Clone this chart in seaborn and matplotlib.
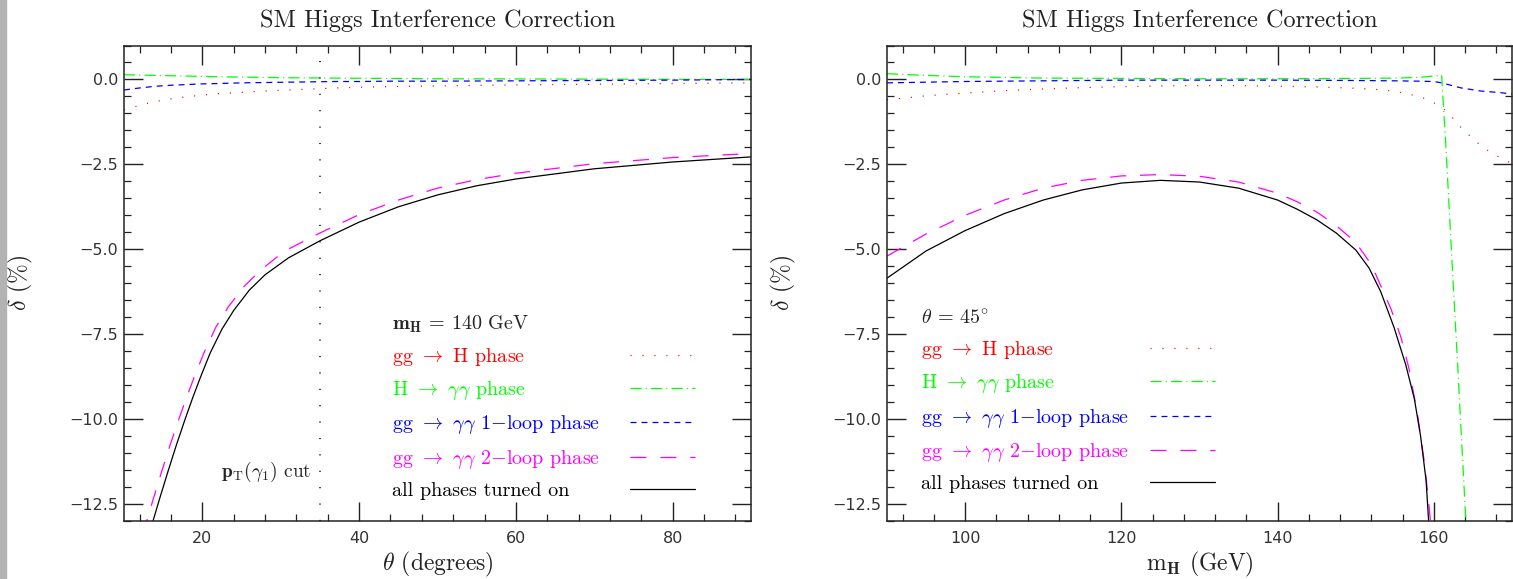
import matplotlib
matplotlib.use("Agg")
import matplotlib.pyplot as plt
import seaborn as sns
from matplotlib.patches import Rectangle
from matplotlib.ticker import MultipleLocator

# ---- data ----
# left panel: m_H = 140 GeV, delta (%) versus theta (degrees)
theta_phase = [10, 12, 14, 16, 18, 20, 22, 25, 28, 31, 34, 37, 40, 44, 50, 60, 70, 80, 90]
left_ggH = [-0.90, -0.76, -0.65, -0.57, -0.51, -0.46, -0.42, -0.38, -0.34, -0.31,
            -0.28, -0.25, -0.23, -0.21, -0.19, -0.16, -0.14, -0.12, -0.10]
left_Hgg = [0.14, 0.13, 0.12, 0.11, 0.10, 0.09, 0.08, 0.07, 0.06, 0.05,
            0.045, 0.04, 0.035, 0.03, 0.02, 0.015, 0.01, 0.005, 0.0]
left_1loop = [-0.31, -0.25, -0.20, -0.17, -0.15, -0.13, -0.12, -0.10, -0.09, -0.08,
              -0.07, -0.06, -0.06, -0.05, -0.05, -0.04, -0.03, -0.02, 0.0]
theta_2loop = [12.5, 12.9, 13.8, 14.8, 15.9, 17.0, 18.0, 18.9, 20.2, 21.7, 23.3, 25.3,
               27.5, 30.5, 35, 40, 45, 50, 55, 60, 70, 80, 90]
left_2loop = [-13.4, -13.0, -12.3, -11.55, -10.75, -10.0, -9.35, -8.8, -8.05, -7.3,
              -6.7, -6.1, -5.6, -5.05, -4.52, -3.98, -3.55, -3.2, -2.95, -2.76, -2.48,
              -2.3, -2.18]
theta_all = [13.3, 13.7, 14.6, 15.6, 16.7, 17.8, 18.8, 19.7, 21, 22.5, 24, 26, 28, 31,
             35, 40, 45, 50, 55, 60, 70, 80, 90]
left_all = [-13.35, -13.0, -12.3, -11.55, -10.75, -10.0, -9.35, -8.8, -8.05, -7.35,
            -6.8, -6.2, -5.75, -5.25, -4.75, -4.2, -3.75, -3.4, -3.13, -2.93, -2.63,
            -2.43, -2.28]
pt_cut_theta = 35

# right panel: theta = 45 deg, delta (%) versus m_H (GeV)
mH_ggH = [90, 95, 100, 105, 110, 115, 120, 125, 130, 135, 140, 145, 150, 153, 155, 157,
          159, 160.6, 161.8, 162.8, 163.8, 165, 166.1, 167.5, 168.7, 170]
right_ggH = [-0.6, -0.48, -0.4, -0.33, -0.28, -0.24, -0.21, -0.19, -0.18, -0.18, -0.2,
             -0.22, -0.26, -0.3, -0.35, -0.44, -0.57, -0.76, -0.96, -1.24, -1.5, -1.74,
             -1.97, -2.18, -2.33, -2.48]
mH_Hgg = [90, 95, 100, 110, 120, 130, 140, 150, 155, 158, 160, 161.0, 161.2, 161.5,
          162.4, 163.1, 164.0, 164.2]
right_Hgg = [0.17, 0.12, 0.08, 0.04, 0.03, 0.02, 0.02, 0.03, 0.04, 0.06, 0.10, 0.13,
             -0.7, -1.8, -5.7, -8.65, -12.6, -13.4]
mH_1loop = [90, 95, 100, 110, 120, 130, 140, 150, 155, 158, 160, 161, 163.5, 166, 168.6, 170]
right_1loop = [-0.10, -0.08, -0.06, -0.04, -0.02, -0.02, -0.02, -0.03, -0.04, -0.05,
               -0.06, -0.1, -0.25, -0.34, -0.39, -0.43]
mH_2loop = [90, 95, 100, 105, 110, 115, 120, 125, 130, 135, 140, 142.5, 145, 147.5, 150,
            152, 154.5, 155.8, 156.8, 157.9, 158.8, 159.4, 159.7]
right_2loop = [-5.2, -4.55, -4.0, -3.55, -3.2, -2.97, -2.84, -2.8, -2.85, -3.02, -3.35,
               -3.6, -3.9, -4.3, -4.8, -5.45, -6.75, -7.6, -8.5, -9.85, -11.3, -12.6, -13.4]
mH_all = [90, 95, 100, 105, 110, 115, 120, 125, 130, 135, 140, 142.5, 145, 147.5, 150,
          151.7, 153.2, 154.9, 156.4, 157.5, 158.3, 159.0, 159.3, 159.45]
right_all = [-5.85, -5.05, -4.45, -3.95, -3.55, -3.25, -3.05, -2.97, -3.02, -3.2, -3.55,
             -3.82, -4.13, -4.52, -5.02, -5.55, -6.25, -7.3, -8.4, -9.4, -10.5, -11.8,
             -12.9, -13.5]

labels = [r'gg $\rightarrow$ H phase',
          r'H $\rightarrow$ $\gamma\gamma$ phase',
          r'gg $\rightarrow$ $\gamma\gamma$ 1$-$loop phase',
          r'gg $\rightarrow$ $\gamma\gamma$ 2$-$loop phase',
          'all phases turned on']
colors = ['#ff0000', '#00ff00', '#0000ff', '#ff00ff', '#000000']
# dash patterns in points (dash scaling switched off below)
styles = [(0, (0.8, 7.8)), (0, (8, 3, 0.8, 3)), (0, (4.3, 3.6)), (0, (11.5, 10)), '-']
title = 'SM Higgs Interference Correction'

sns.set_style('ticks')
plt.rcParams['lines.scale_dashes'] = False
plt.rcParams['mathtext.fontset'] = 'cm'
plt.rcParams['font.family'] = ['DejaVu Sans']
plt.rcParams['axes.unicode_minus'] = True

serif = 'cmr10'
ink = '#222222'

fig = plt.figure(figsize=(15.13, 5.79), dpi=100)
fig.patches.append(Rectangle((0, 0), 6 / 1513, 1, transform=fig.transFigure,
                             color='#b3b3b3', zorder=0))

ax1 = fig.add_axes([124 / 1513, 58 / 579, 627 / 1513, 475.5 / 579])
ax2 = fig.add_axes([887 / 1513, 58 / 579, 625 / 1513, 475.5 / 579])

panels = [
    (ax1, [(theta_phase, left_ggH), (theta_phase, left_Hgg), (theta_phase, left_1loop),
           (theta_2loop, left_2loop), (theta_all, left_all)], (10, 90),
     r'$\theta$ (degrees)', r'$\mathbf{m}_\mathbf{H}$ = 140 GeV', (0.427, 0.437), 303),
    (ax2, [(mH_ggH, right_ggH), (mH_Hgg, right_Hgg), (mH_1loop, right_1loop),
           (mH_2loop, right_2loop), (mH_all, right_all)], (90, 170),
     r'm$_\mathbf{H}$ (GeV)', r'$\theta$ = 45$^{\circ}$', (0.054, 0.446), 294),
]

for ax, series, xlim, xlabel, header, anchor, entry_w in panels:
    for (x, y), c, ls in zip(series, colors, styles):
        sns.lineplot(x=x, y=y, ax=ax, color=c, linestyle=ls, linewidth=0.9, sort=False)
    ax.set_xlim(*xlim)
    ax.set_ylim(-13, 1)
    ax.xaxis.set_major_locator(MultipleLocator(20))
    ax.xaxis.set_minor_locator(MultipleLocator(4))
    ax.yaxis.set_major_locator(MultipleLocator(2.5))
    ax.yaxis.set_minor_locator(MultipleLocator(0.5))
    ax.yaxis.set_major_formatter(lambda v, p: f'{v:.1f}'.replace('-', '\u2212'))
    ax.tick_params(which='both', direction='in', top=True, right=True, colors=ink,
                   labelsize=11.5, labelcolor='#333333')
    ax.tick_params(axis='x', which='major', length=14, width=1.0, pad=7)
    ax.tick_params(axis='y', which='major', length=14, width=1.0, pad=4)
    ax.tick_params(which='minor', length=5, width=0.9)
    for sp in ax.spines.values():
        sp.set_color(ink)
        sp.set_linewidth(1.1)
    ax.set_xlabel(xlabel, fontfamily=serif, fontsize=17, color='#222222')
    ax.set_ylabel(r'$\delta$ (%)', fontfamily=serif, fontsize=17, color='#222222')
    ax.xaxis.set_label_coords(0.5, -0.06)
    ax.yaxis.set_label_coords(-0.142, 0.5)
    ax.set_title(title, fontfamily=serif, fontsize=17.5, pad=13, color='#222222')

    leg = ax.legend(handles=ax.lines[:5], labels=labels, title=header,
                    loc='upper left', bbox_to_anchor=anchor, borderaxespad=0,
                    borderpad=0, frameon=False, markerfirst=False, alignment='left',
                    handlelength=3.2, labelspacing=0.56,
                    prop={'family': serif, 'size': 14.5},
                    title_fontproperties={'family': serif, 'size': 14.5},
                    labelcolor=colors)
    # text flush left, line samples flush right
    for column in leg._legend_handle_box.get_children():
        for item in column.get_children():
            item.mode = 'expand'
            item.width = entry_w

ax1.axvline(pt_cut_theta, color='black', linestyle=(0, (0.8, 11)), linewidth=1.1)
ax1.text(pt_cut_theta - 1.1, -11.55, r'$\mathbf{p}_\mathrm{T}(\gamma_1)$ cut',
         ha='right', va='center', fontfamily=serif, fontsize=14)

fig.savefig('out.png', dpi=100)
